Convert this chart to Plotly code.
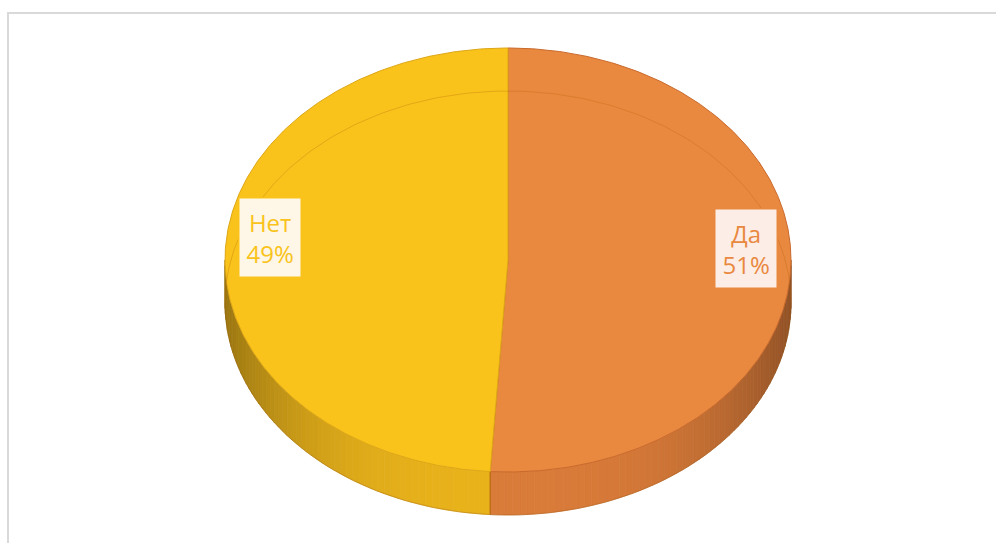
import numpy as np
import plotly.graph_objects as go

# Survey answers and their shares (percent)
categories = ["Да", "Нет"]
shares = [51, 49]

# Top-face colours, side base colours, label backgrounds
face_colors = ["#E9883F", "#F9C31B"]
side_colors = ["#E07F3B", "#F0B81C"]
label_bg = ["#FCEEE6", "#FEF6E6"]
edge_colors = ["#C9692C", "#DDA615"]

# Projection of the tilted disc (screen pixel units)
CX, CY = 508.0, 260.0
RX, RY = 283.0, 212.0
DEPTH = 43.0
W, H = 996, 543


def ellipse_pt(theta_deg, dy=0.0):
    """Point on the disc rim, angle measured clockwise from 12 o'clock."""
    t = np.radians(theta_deg)
    return CX + RX * np.sin(t), CY - RY * np.cos(t) + dy


def shade(hex_color, f):
    h = hex_color.lstrip("#")
    r, g, b = (int(h[i:i + 2], 16) for i in (0, 2, 4))
    return "rgb({},{},{})".format(*(int(max(0, min(255, c * f))) for c in (r, g, b)))


# Slice angle ranges, starting at the top and running clockwise
total = float(sum(shares))
bounds = np.concatenate([[0.0], np.cumsum(shares) / total * 360.0])

fig = go.Figure()

# Side wall: only the front half (90°..270°) is visible
for i, cat in enumerate(categories):
    a0, a1 = bounds[i], bounds[i + 1]
    s0, s1 = max(a0, 90.0), min(a1, 270.0)
    if s1 <= s0:
        continue
    n = max(2, int(np.ceil((s1 - s0) / 1.5)))
    edges = np.linspace(s0, s1, n + 1)
    for e0, e1 in zip(edges[:-1], edges[1:]):
        arc = np.linspace(e0, e1, 4)
        tx, ty = ellipse_pt(arc)
        bx, by = ellipse_pt(arc[::-1], DEPTH)
        mid = 0.5 * (e0 + e1)
        phi = np.radians(mid - 180.0)
        f = 0.97 - 0.32 * abs(np.sin(phi)) ** 3
        col = shade(side_colors[i], f)
        fig.add_trace(go.Scatter(
            x=np.concatenate([tx, bx, tx[:1]]),
            y=np.concatenate([ty, by, ty[:1]]),
            mode="lines", fill="toself", fillcolor=col,
            line=dict(color=col, width=0.8),
            hoverinfo="skip", showlegend=False,
        ))

# Seam on the side wall where the two slices meet
for a in bounds[:-1]:
    if 90.0 < a < 270.0:
        x0, y0 = ellipse_pt(a)
        x1, y1 = ellipse_pt(a, DEPTH)
        fig.add_trace(go.Scatter(
            x=[x0, x1], y=[y0, y1], mode="lines",
            line=dict(color="rgba(170,80,20,0.8)", width=1.2),
            hoverinfo="skip", showlegend=False,
        ))

# Lower rim of the side wall
rim = np.linspace(90, 270, 181)
rx_, ry_ = ellipse_pt(rim, DEPTH)
fig.add_trace(go.Scatter(
    x=rx_, y=ry_, mode="lines",
    line=dict(color="rgba(150,90,20,0.35)", width=1),
    hoverinfo="skip", showlegend=False,
))

# Top face of each slice
for i, cat in enumerate(categories):
    a0, a1 = bounds[i], bounds[i + 1]
    arc = np.linspace(a0, a1, int((a1 - a0) * 2) + 2)
    ax, ay = ellipse_pt(arc)
    fig.add_trace(go.Scatter(
        x=np.concatenate([[CX], ax, [CX]]),
        y=np.concatenate([[CY], ay, [CY]]),
        mode="lines", fill="toself", fillcolor=face_colors[i],
        line=dict(color=edge_colors[i], width=1),
        name=cat, hoverinfo="skip", showlegend=False,
    ))

# Faint back rim of the disc's underside showing through the top
back = np.linspace(-90, 90, 181)
bx_, by_ = ellipse_pt(back, DEPTH)
fig.add_trace(go.Scatter(
    x=bx_, y=by_, mode="lines",
    line=dict(color="rgba(180,100,10,0.3)", width=1),
    hoverinfo="skip", showlegend=False,
))

# Data labels inside each slice
annotations = []
LABEL_K = 0.84
LABEL_LIFT = 17.0
for i, cat in enumerate(categories):
    mid = 0.5 * (bounds[i] + bounds[i + 1])
    t = np.radians(mid)
    lx = CX + LABEL_K * RX * np.sin(t)
    ly = CY - LABEL_LIFT - LABEL_K * RY * np.cos(t)
    annotations.append(dict(
        x=lx, y=ly, xref="x", yref="y",
        text=f"{cat}<br>{shares[i]}%",
        showarrow=False, borderwidth=1.5, borderpad=7, align="center",
        font=dict(family="Open Sans", size=24, color=face_colors[i]),
        bgcolor=label_bg[i], bordercolor=face_colors[i],
    ))

fig.update_layout(
    width=W, height=H,
    margin=dict(l=0, r=0, t=0, b=0),
    paper_bgcolor="white", plot_bgcolor="white",
    xaxis=dict(range=[0, W], visible=False, fixedrange=True),
    yaxis=dict(range=[H, 0], visible=False, fixedrange=True),
    annotations=annotations,
    shapes=[dict(
        type="rect", xref="paper", yref="paper",
        x0=8 / W, y0=1 - 13 / H, x1=1.05, y1=-0.05,
        line=dict(color="#D9D9D9", width=2), fillcolor="rgba(0,0,0,0)",
        layer="below",
    )],
)

fig.write_html("out.html")
